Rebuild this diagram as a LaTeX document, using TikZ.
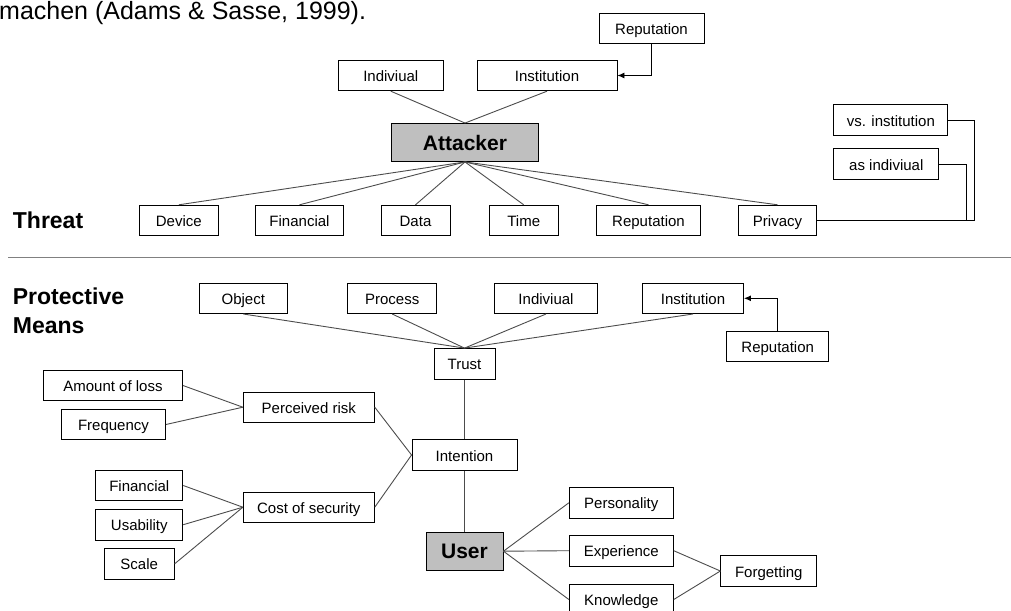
\documentclass[tikz,border=0pt]{standalone}
\usepackage{fontspec}
\setmainfont{Liberation Sans}
\usetikzlibrary{arrows.meta}
\tikzset{>={Latex[length=7pt,width=6pt]}}
\tikzset{
    box/.style={draw, line width=0.9pt, minimum height=30.5pt, minimum width=#1, inner sep=0pt, text height=12pt, text depth=0pt, font=\fontsize{15}{17}\selectfont},
    mainbox/.style={box=#1, fill=black!25, minimum height=38pt, text height=15pt, font=\fontsize{21}{24}\selectfont\bfseries},
    link/.style={draw=black!70, line width=0.9pt},
    elbow/.style={draw, line width=0.9pt},
    heading/.style={anchor=base west, inner sep=0pt, align=left, font=\fontsize{23}{29}\selectfont\bfseries}
}

\begin{document}
\begin{tikzpicture}[x=1pt, y=-1pt]
    \useasboundingbox (0,0) rectangle (1011,610);
    \node[anchor=base west, inner sep=0pt, font=\fontsize{25}{28}\selectfont] (cite) at (-1,19.5) {machen (Adams \& Sasse, 1999).};
    \node[heading] (threat) at (12.7,228) {Threat};
    \node[heading] (means) at (12.7,333.3) {Protective\\Means};

    \node[mainbox=147pt] (attacker) at (465,142.5) {Attacker};
    \node[box=105pt] (indivA) at (390.8,75.5) {Indiviual};
    \node[box=140pt] (instA) at (547,75.5) {Institution};
    \node[box=105pt] (repA) at (651.5,28.5) {Reputation};
    \node[box=79pt] (device) at (178.8,220.5) {Device};
    \node[box=88pt] (finA) at (299.5,220.5) {Financial};
    \node[box=69pt] (data) at (415.5,220.5) {Data};
    \node[box=69pt] (time) at (523.7,220.5) {Time};
    \node[box=104pt] (repT) at (648.5,220.5) {Reputation};
    \node[box=78pt] (privacy) at (777.5,220.5) {Privacy};
    \node[box=114pt] (vsinst) at (890.8,120) {vs. institution};
    \node[box=105pt] (asind) at (886.3,164) {as indiviual};
    \coordinate (privA) at (974,120);
    \coordinate (privB) at (966,164);

    \draw[black!50, line width=1pt] (8,257) -- (1011,257);

    \node[box=88pt] (object) at (243.3,298.3) {Object};
    \node[box=89pt] (process) at (392.2,298.3) {Process};
    \node[box=103pt] (indivB) at (546,298.3) {Indiviual};
    \node[box=101pt] (instB) at (693,298.3) {Institution};
    \node[box=102pt] (repB) at (777.7,346.5) {Reputation};
    \node[box=61pt] (trust) at (464.5,363.8) {Trust};
    \node[box=139pt] (amount) at (113,385.5) {Amount of loss};
    \node[box=104pt] (frequency) at (113.5,424.5) {Frequency};
    \node[box=131pt] (risk) at (308.8,407.2) {Perceived risk};
    \node[box=105pt] (intention) at (464.5,455) {Intention};
    \node[box=131pt] (cost) at (308.8,507.2) {Cost of security};
    \node[box=87pt] (finB) at (139.3,485.5) {Financial};
    \node[box=87pt] (usability) at (139.3,524.7) {Usability};
    \node[box=70pt] (scale) at (139.2,563.8) {Scale};
    \node[mainbox=77pt] (user) at (464.5,551.2) {User};
    \node[box=104pt] (personality) at (621.3,502.8) {Personality};
    \node[box=104pt] (experience) at (621.3,550.7) {Experience};
    \node[box=104pt] (knowledge) at (621.3,599.5) {Knowledge};
    \node[box=96pt] (forgetting) at (768.8,571) {Forgetting};

    \foreach \n in {indivA,instA}
        \draw[link] (\n.south) -- (attacker.north);
    \foreach \n in {device,finA,data,time,repT,privacy}
        \draw[link] (attacker.south) -- (\n.north);
    \draw[elbow,->] (repA.south) |- (instA.east);
    \draw[elbow] (vsinst.east) -- (privA) |- (privacy.east);
    \draw[elbow] (asind.east) -- (privB) |- (privacy.east);

    \foreach \n in {object,process,indivB,instB}
        \draw[link] (\n.south) -- (trust.north);
    \draw[elbow,->] (repB.north) |- (instB.east);
    \draw[link] (trust.south) -- (intention.north);
    \foreach \n in {amount,frequency}
        \draw[link] (\n.east) -- (risk.west);
    \foreach \n in {finB,usability,scale}
        \draw[link] (\n.east) -- (cost.west);
    \foreach \n in {risk,cost}
        \draw[link] (\n.east) -- (intention.west);
    \draw[link] (intention.south) -- (user.north);
    \foreach \n in {personality,experience,knowledge}
        \draw[link] (user.east) -- (\n.west);
    \foreach \n in {experience,knowledge}
        \draw[link] (\n.east) -- (forgetting.west);
\end{tikzpicture}
\end{document}
